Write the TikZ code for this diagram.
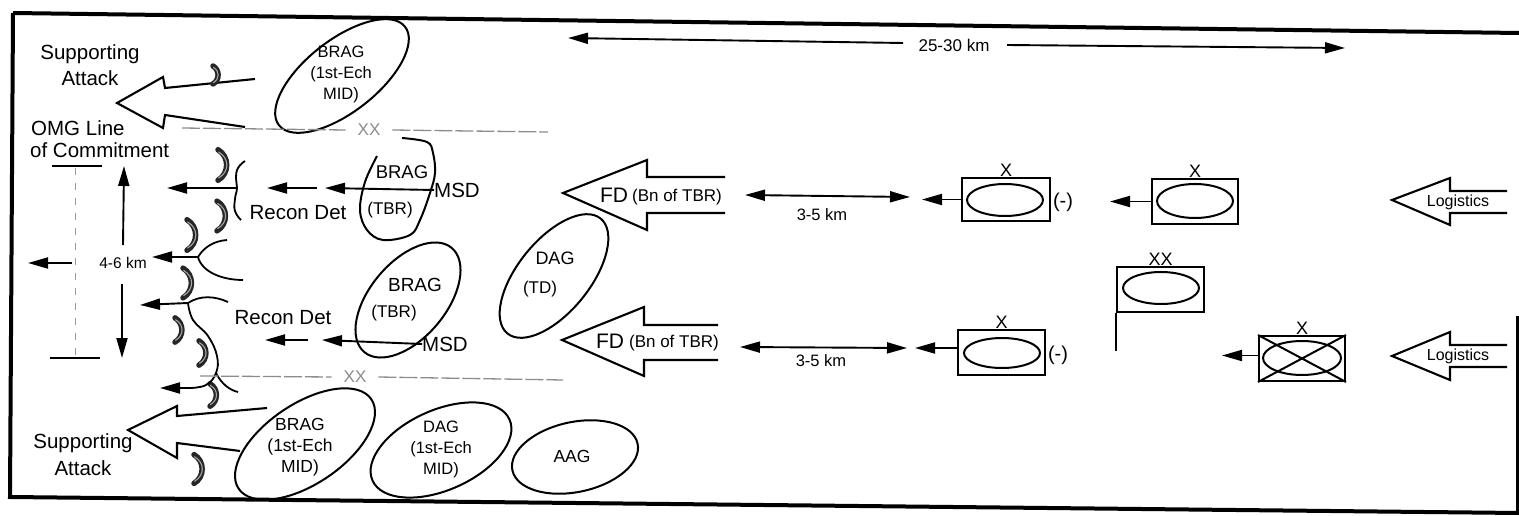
\documentclass[tikz,border=0pt]{standalone}
\usepackage{fontspec}
\setmainfont{Liberation Sans}
\usetikzlibrary{arrows.meta,shapes.geometric}
\begin{document}
\begin{tikzpicture}[x=1pt,y=-1pt,
  arr/.style={line width=1.9pt,-{Triangle[length=20pt,width=11pt]}},
  darr/.style={line width=1.9pt,{Triangle[length=20pt,width=11pt]}-{Triangle[length=20pt,width=11pt]}},
  hollow/.style={line width=2.1pt,line join=miter},
  thin/.style={line width=1.8pt},
  ell/.style={draw,ellipse,line width=2pt,inner sep=0pt},
  grayline/.style={draw=black!45,line width=1.3pt,dash pattern=on 18pt off 3pt},
  grayxx/.style={font=\fontsize{17}{17}\selectfont,text=black!45,inner sep=0pt,outer sep=12pt},
  big/.style={font=\fontsize{20.5}{22}\selectfont,inner sep=0pt},
  med/.style={font=\fontsize{17}{21}\selectfont,inner sep=0pt,align=center},
  sml/.style={font=\fontsize{16}{18}\selectfont,inner sep=0pt},
  xlab/.style={font=\fontsize{18}{18}\selectfont,inner sep=0pt,anchor=south},
  minus/.style={font=\fontsize{20}{20}\selectfont,inner sep=0pt},
  unitbox/.style={draw,line width=2pt,inner sep=0pt},
  unitell/.style={draw,ellipse,line width=2pt,inner sep=0pt,minimum width=76pt,minimum height=32pt},
  cres/.pic={\draw[line width=5.5pt,black!85,line cap=round] (0,-0.45) .. controls (0.34,-0.25) and (0.34,0.25) .. (0,0.45);
             \draw[line width=1.1pt,black!35,line cap=round] (0.02,-0.38) .. controls (0.34,-0.2) and (0.34,0.2) .. (0.02,0.38);}
]
\useasboundingbox (0,0) rectangle (1519,516);
% frame
\draw[line width=4pt] (13,13) -- (1519,33);
\draw[line width=4pt] (13,13) -- (10,497) -- (1519,513);
\draw[line width=3pt] (1517,316) -- (1517,513);

% ---- top-left supporting attack
\node[big] (sup1) at (90,54) {Supporting};
\node[big] (att1) at (90,78) {Attack};
\draw[hollow] (255,79) -- (165,88) -- (163,77) -- (117,103) -- (163,128) -- (165,115) -- (245,127);
\pic[scale=20] at (213,75) {cres};
\node[ell,rotate=38,minimum width=160pt,minimum height=72pt] (brag1) at (342,76) {};
\node[med,font=\fontsize{16.5}{21}\selectfont] (brag1t) at (341,74) {BRAG\\(1st-Ech\\MID)};

% top gray boundary
\node[grayxx] (xx1) at (369,130) {XX};
\draw[grayline] (182,128) -- (xx1.west);
\draw[grayline] (xx1.east) -- (548,132);

% OMG
\node[big,anchor=west] (omg1) at (31,128) {OMG Line};
\node[big,anchor=west] (omg2) at (30,150) {of Commitment};
\draw[thin] (52,166) -- (102,166);
\draw[thin] (50,358) -- (100,358);
\draw[draw=black!40,line width=1pt,dash pattern=on 7pt off 8pt] (75,168) -- (75,356);
\node[sml,font=\fontsize{15.5}{16}\selectfont] (km46) at (123,263) {4-6 km};
\draw[arr] (123,245) -- (124,166);
\draw[arr] (122,284) -- (122,358);
\draw[arr] (72,263) -- (28,263);

% crescents
\pic[scale=34] at (218,165) {cres};
\pic[scale=33] at (217,216) {cres};
\pic[scale=34] at (187,235) {cres};
\pic[scale=33] at (183,283) {cres};
\pic[scale=27] at (175,330) {cres};
\pic[scale=27] at (199,353) {cres};
\pic[scale=25] at (210,395) {cres};
\pic[scale=32] at (194,469) {cres};

% upper recon det
\draw[thin] plot[smooth,tension=0.8] coordinates {(245,161) (238,168) (236,178) (237,188) (235,199) (235,211) (241,220)};
\coordinate (j1) at (237,188);
\draw[arr] (j1) -- (167,188);
\node[big] (rd1) at (298,213) {Recon Det};
\draw[arr] (317,188) -- (267,188);
\node[big] (msd1) at (457,190) {MSD};
\draw[arr] (msd1.west) -- (325,188);
\draw[line width=2pt] plot[smooth,tension=0.6] coordinates {(377,156) (365,182) (360,210) (367,230) (383,240) (410,235) (420,220) (430,193) (435,173) (433,153) (427,142) (402,138)};
\node[font=\fontsize{18.5}{18}\selectfont,inner sep=0pt] (brag2a) at (402,172) {BRAG};
\node[med] (brag2b) at (390,210) {(TBR)};

% middle fork
\coordinate (j2) at (198,257);
\draw[arr] (j2) -- (152,257);
\draw[thin] (j2) .. controls (204,247) and (214,241) .. (227,240);
\draw[thin] (j2) .. controls (202,272) and (222,280) .. (243,280);

% lower fork
\coordinate (j3) at (188,303);
\draw[arr] (j3) -- (140,305);
\draw[thin] (j3) .. controls (200,295) and (215,296) .. (228,302);
\draw[thin] plot[smooth,tension=0.7] coordinates {(188,303) (193,320) (208,336) (217,356) (216,373) (206,385) (190,388)};
\coordinate (j4) at (190,388);
\draw[arr] (j4) -- (160,388);
\draw[thin] (216,373) .. controls (221,383) and (229,390) .. (238,392);
\node[big] (rd2) at (283,318) {Recon Det};

% lower BRAG TBR
\node[ell,rotate=50,minimum width=136pt,minimum height=76pt] (brag3) at (408,300) {};
\node[font=\fontsize{19}{19}\selectfont,inner sep=0pt] (brag3a) at (415,285) {BRAG};
\node[med] (brag3b) at (394,313) {(TBR)};
\draw[arr] (308,340) -- (265,340);
\node[big] (msd2) at (445,344) {MSD};
\draw[arr] (msd2.west) -- (322,340);

% lower gray boundary
\node[grayxx] (xx2) at (355,377) {XX};
\draw[grayline] (200,376) -- (xx2.west);
\draw[grayline] (xx2.east) -- (563,380);

% lower supporting attack
\draw[hollow] (267,408) -- (177,416) -- (177,406) -- (128,430) -- (177,458) -- (177,443) -- (240,451);
\node[big] (sup2) at (83,443) {Supporting};
\node[big] (att2) at (83,468) {Attack};
\node[ell,rotate=34,minimum width=160pt,minimum height=80pt] (brag4) at (305,444) {};
\node[med,font=\fontsize{17.5}{21}\selectfont] (brag4t) at (300,447) {BRAG\\(1st-Ech\\MID)};
\node[ell,rotate=24,minimum width=150pt,minimum height=80pt] (dag2) at (441,450) {};
\node[med,font=\fontsize{16.5}{21}\selectfont] (dag2t) at (441,449) {DAG\\(1st-Ech\\MID)};
\node[ell,rotate=12,minimum width=128pt,minimum height=70pt] (aag) at (575,457) {};
\node[med,font=\fontsize{17.5}{18}\selectfont] (aagt) at (572,456) {AAG};

% DAG TD
\node[ell,rotate=51,minimum width=148pt,minimum height=72pt] (dag1) at (554,276) {};
\node[font=\fontsize{18}{18}\selectfont,inner sep=0pt] (dag1a) at (555,258) {DAG};
\node[med] (dag1b) at (540,289) {(TD)};

% 25-30 km
\node[sml,font=\fontsize{17}{18}\selectfont] (k2530) at (954,45) {25-30 km};
\draw[arr] (903,43) -- (568,38);
\draw[arr] (1007,45) -- (1345,48);

% FD upper
\draw[hollow] (725,177) -- (647,177) -- (647,160) -- (563,193) -- (647,230) -- (647,213) -- (725,213);
\node[big,font=\fontsize{21}{21}\selectfont] (fd1) at (614,195) {FD};
\node[med] (fd1b) at (677,197) {(Bn of TBR)};
\draw[darr] (745,195) -- (910,197);
\node[sml,font=\fontsize{16.5}{18}\selectfont] (km35a) at (822,215) {3-5 km};

% FD lower
\draw[hollow] (718,325) -- (644,325) -- (644,307) -- (562,340) -- (644,376) -- (644,360) -- (718,360);
\node[big,font=\fontsize{21}{21}\selectfont] (fd2) at (610,341) {FD};
\node[med] (fd2b) at (674,343) {(Bn of TBR)};
\draw[darr] (740,347) -- (907,348);
\node[sml,font=\fontsize{16.5}{18}\selectfont] (km35b) at (821,361) {3-5 km};

% unit boxes
\node[unitbox,minimum width=88pt,minimum height=43pt] (b1) at (1006,199.5) {};
\node[unitell] (b1e) at (1005,200) {};
\node[xlab] (b1x) at (b1.north) {X};
\node[minus] (b1m) at (1063,202) {(-)};
\draw[arr] (b1.west) -- (922,199.5);

\node[unitbox,minimum width=86pt,minimum height=45pt] (b2) at (1195,201.5) {};
\node[unitell,minimum height=34pt] (b2e) at (1195,201) {};
\node[xlab] (b2x) at (b2.north) {X};
\draw[arr] (b2.west) -- (1110,201.5);

\node[unitbox,minimum width=87pt,minimum height=45pt] (bxx) at (1160.5,289.5) {};
\node[unitell] (bxxe) at (1161,288) {};
\node[xlab] (bxxl) at (bxx.north) {XX};
\draw[line width=2pt] (bxx.south west) -- ++(0,38);

\node[unitbox,minimum width=87pt,minimum height=45pt] (b3) at (1001.5,352.5) {};
\node[unitell,minimum height=30pt] (b3e) at (1002,353) {};
\node[xlab] (b3x) at (b3.north) {X};
\node[minus] (b3m) at (1058,355) {(-)};
\draw[arr] ([yshift=4.5pt]b3.west) -- (915,348);

\node[unitbox,minimum width=86pt,minimum height=45pt] (bx) at (1302,358.5) {};
\node[unitell,minimum width=78pt,minimum height=34pt] (bxe) at (1302,358) {};
\draw[line width=2pt] (bx.north west) -- (bx.south east) (bx.north east) -- (bx.south west);
\node[xlab] (bxl) at (bx.north) {X};
\draw[arr] ([yshift=3pt]bx.west) -- (1222,355.5);

% logistics
\draw[hollow] (1507,191) -- (1450,191) -- (1450,178) -- (1392,200) -- (1450,225) -- (1450,213) -- (1507,213);
\node[sml] (log1) at (1458,202) {Logistics};
\draw[hollow] (1507,345) -- (1450,345) -- (1450,332) -- (1392,356) -- (1450,380) -- (1450,367) -- (1507,367);
\node[sml] (log2) at (1458,356) {Logistics};
\end{tikzpicture}
\end{document}
